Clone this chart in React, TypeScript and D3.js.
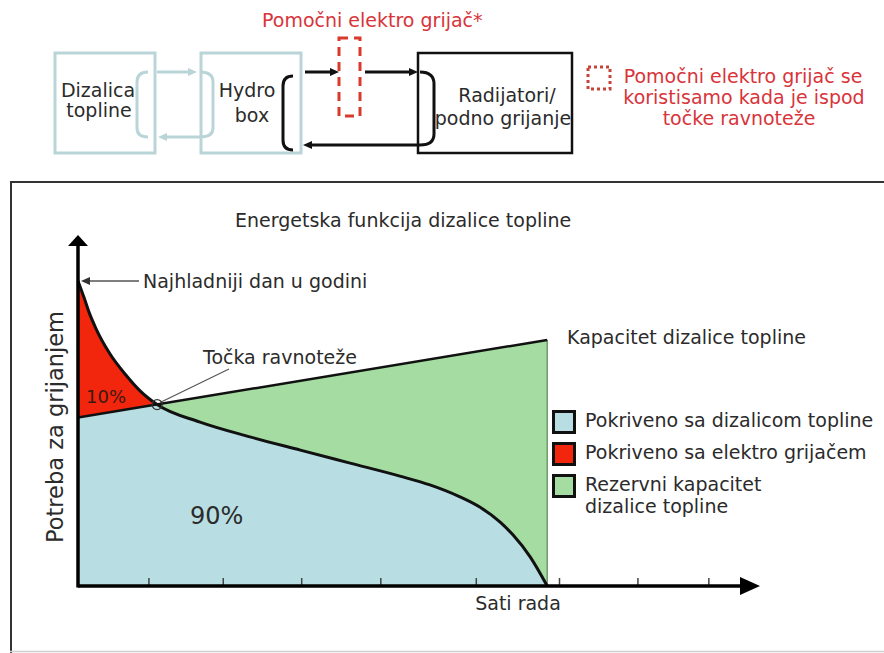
import React from 'react'
import { scaleLinear, area, line, curveMonotoneX } from 'd3'

// demand curve (load duration), x in % of year, y in % of max
const demandX = [0, 0.9, 1.6, 2.6, 4.7, 6.9, 9.1, 11.6, 17.9, 25.2, 32.6, 39.9, 47.2, 51.6, 56.0, 58.9, 61.9, 63.8, 66.3, 68.8]
const demandY = [86.9, 82.1, 78.1, 73.5, 66.1, 60.4, 55.6, 51.7, 46.7, 42.5, 38.7, 35.0, 31.3, 28.8, 25.4, 22.5, 18.2, 14.5, 8.3, 0]

// heat pump capacity line
const capX = [0, 68.8]
const capY = [48.0, 70.1]

const balance = { x: 11.6, y: 51.7 }
const coldest = { x: 0, y: 86.9 }

const tickValues = [10.4, 21.3, 32.8, 44.4, 58.4, 70.6, 82.1, 92.5]

const legendLabels = [
  ['Pokriveno sa dizalicom topline'],
  ['Pokriveno sa elektro grijačem'],
  ['Rezervni kapacitet', 'dizalice topline'],
]
const blue = '#b8dee3'
const red = '#f2250d'
const green = '#a4dca2'
const legendColors = [blue, red, green]

const font = 'DejaVu Sans, Verdana, sans-serif'
const txt = '#2b2b2b'
const redTxt = '#d8343a'
const fs = 19

function App() {
  const x = scaleLinear().domain([0, 100]).range([78, 760])
  const y = scaleLinear().domain([0, 100]).range([586, 235])

  const demand = demandX.map((d, i) => ({ x: d, y: demandY[i] }))
  const cap = capX.map((d, i) => ({ x: d, y: capY[i] }))

  const demandArea = area<{ x: number; y: number }>()
    .x(d => x(d.x))
    .y0(y(0))
    .y1(d => y(d.y))
    .curve(curveMonotoneX)(demand) as string
  const capArea = area<{ x: number; y: number }>()
    .x(d => x(d.x))
    .y0(y(0))
    .y1(d => y(d.y))(cap) as string
  const demandLine = line<{ x: number; y: number }>()
    .x(d => x(d.x))
    .y(d => y(d.y))
    .curve(curveMonotoneX)(demand) as string
  const capLine = line<{ x: number; y: number }>()
    .x(d => x(d.x))
    .y(d => y(d.y))(cap) as string

  const x0 = x(0), y0 = y(0)
  const capEnd = cap[cap.length - 1]
  const cy = y(coldest.y)

  return (
    <svg width={884} height={653} style={{ position: 'absolute', left: 0, top: 0, background: '#fff' }} fontFamily={font}>
      <defs>
        <clipPath id="capClip">
          <path d={capArea} />
        </clipPath>
      </defs>

      {/* ---------- top schematic ---------- */}
      <text x={262} y={27} fontSize={fs} fill={redTxt}>Pomočni elektro grijač*</text>

      <rect x={55} y={53} width={100} height={100} fill="none" stroke="#b9d5d8" strokeWidth={3} />
      <rect x={201} y={53} width={100} height={100} fill="none" stroke="#b9d5d8" strokeWidth={3} />
      <text x={98} y={97} fontSize={fs} fill={txt} textAnchor="middle">Dizalica</text>
      <text x={99} y={117} fontSize={fs} fill={txt} textAnchor="middle">topline</text>
      <text x={247} y={97} fontSize={fs} fill={txt} textAnchor="middle">Hydro</text>
      <text x={252} y={122} fontSize={fs} fill={txt} textAnchor="middle">box</text>

      <g stroke="#b9d5d8" strokeWidth={3} fill="none">
        <path d="M148,72 Q137,72 137,82 V128 Q137,137 148,137" />
        <path d="M157,72 H190" />
        <path d="M200,72 Q213,72 213,82 V128 Q213,137 200,137 H166" />
      </g>
      <path d="M197,72 L188,68 L188,76 Z" fill="#b9d5d8" />
      <path d="M158,137 L167,133 L167,141 Z" fill="#b9d5d8" />

      <g stroke="#111" strokeWidth={3} fill="none">
        <path d="M293,76 Q283,76 283,86 V140 Q283,150 293,150" />
        <path d="M305,72 H332" />
        <path d="M365,72 H410" />
        <path d="M420,72 Q434,72 434,84 V134 Q434,145 420,145 H312" />
      </g>
      <path d="M339,72 L330,68 L330,76 Z" fill="#111" />
      <path d="M418,72 L409,68 L409,76 Z" fill="#111" />
      <path d="M303,145 L312,141 L312,149 Z" fill="#111" />

      <rect x={339} y={38} width={21} height={78} fill="none" stroke="#d93a2c" strokeWidth={3} strokeDasharray="9,6" />

      <rect x={418} y={53} width={154} height={100} fill="none" stroke="#111" strokeWidth={2.5} />
      <text x={507} y={102} fontSize={fs} fill={txt} textAnchor="middle">Radijatori/</text>
      <text x={503} y={125} fontSize={fs} fill={txt} textAnchor="middle">podno grijanje</text>

      <rect x={588} y={67} width={22} height={22} fill="none" stroke="#c8443a" strokeWidth={3} strokeDasharray="3,3" />
      <text x={743} y={83} fontSize={fs} fill={redTxt} textAnchor="middle">Pomočni elektro grijač se</text>
      <text x={744} y={104} fontSize={fs} fill={redTxt} textAnchor="middle">koristisamo kada je ispod</text>
      <text x={739} y={125} fontSize={fs} fill={redTxt} textAnchor="middle">točke ravnoteže</text>

      {/* ---------- chart frame ---------- */}
      <line x1={10} y1={182} x2={884} y2={182} stroke="#333" strokeWidth={2} />
      <line x1={11} y1={181} x2={11} y2={653} stroke="#333" strokeWidth={2} />
      <line x1={10} y1={651.5} x2={884} y2={651.5} stroke="#d0d0d0" strokeWidth={1.5} />

      <text x={235} y={227} fontSize={fs} fill={txt}>Energetska funkcija dizalice topline</text>

      {/* ---------- areas ---------- */}
      <path d={capArea} fill={green} />
      <line x1={x(capEnd.x)} y1={y(capEnd.y)} x2={x(capEnd.x)} y2={y0} stroke="#6e9c6c" strokeWidth={1.5} />
      <path d={demandArea} fill={red} />
      <path d={demandArea} fill={blue} clipPath="url(#capClip)" />

      <path d={capLine} fill="none" stroke="#111" strokeWidth={2.5} />
      <path d={demandLine} fill="none" stroke="#111" strokeWidth={3} />

      {/* ---------- axes ---------- */}
      {tickValues.map(t => (
        <line key={t} x1={x(t)} x2={x(t)} y1={y0} y2={y0 - 8} stroke="#444" strokeWidth={1.5} />
      ))}
      <line x1={x0} y1={y0} x2={742} y2={y0} stroke="#000" strokeWidth={3.5} />
      <path d={`M760,${y0} L740,${y0 - 9} L740,${y0 + 9} Z`} fill="#000" />
      <line x1={x0} y1={y0 + 1.5} x2={x0} y2={243} stroke="#000" strokeWidth={3.5} />
      <path d={`M${x0},235 L${x0 - 10},246 L${x0 + 10},246 Z`} fill="#000" />

      <text x={518} y={610} fontSize={fs} fill={txt} textAnchor="middle">Sati rada</text>
      <text transform="translate(63,427) rotate(-90)" fontSize={22.5} fill={txt} textAnchor="middle">Potreba za grijanjem</text>

      {/* ---------- annotations ---------- */}
      <line x1={139} y1={cy} x2={88} y2={cy} stroke="#555" strokeWidth={1.5} />
      <path d={`M81,${cy} L90,${cy - 4} L90,${cy + 4} Z`} fill="#333" />
      <text x={143} y={288} fontSize={fs} fill={txt}>Najhladniji dan u godini</text>

      <line x1={229} y1={369} x2={x(balance.x) + 3} y2={y(balance.y) - 2} stroke="#555" strokeWidth={1.2} />
      <text x={203} y={364} fontSize={fs} fill={txt}>Točka ravnoteže</text>
      <circle cx={x(balance.x)} cy={y(balance.y)} r={5} fill="none" stroke="#333" strokeWidth={1.2} />

      <text x={86} y={403} fontSize={18} fill="#3a1a10">10%</text>
      <text x={190} y={524} fontSize={24} fill={txt}>90%</text>

      <text x={567} y={344} fontSize={fs} fill={txt}>Kapacitet dizalice topline</text>

      {/* ---------- legend ---------- */}
      {legendLabels.map((lines, i) => (
        <g key={i} transform={`translate(552,${410 + i * 32})`}>
          <rect x={1.5} y={1.5} width={21} height={21} fill={legendColors[i]} stroke="#111" strokeWidth={3} />
          {lines.map((l, j) => (
            <text key={j} x={33} y={17 + j * 22} fontSize={fs} fill={txt}>{l}</text>
          ))}
        </g>
      ))}
    </svg>
  )
}

export default App
